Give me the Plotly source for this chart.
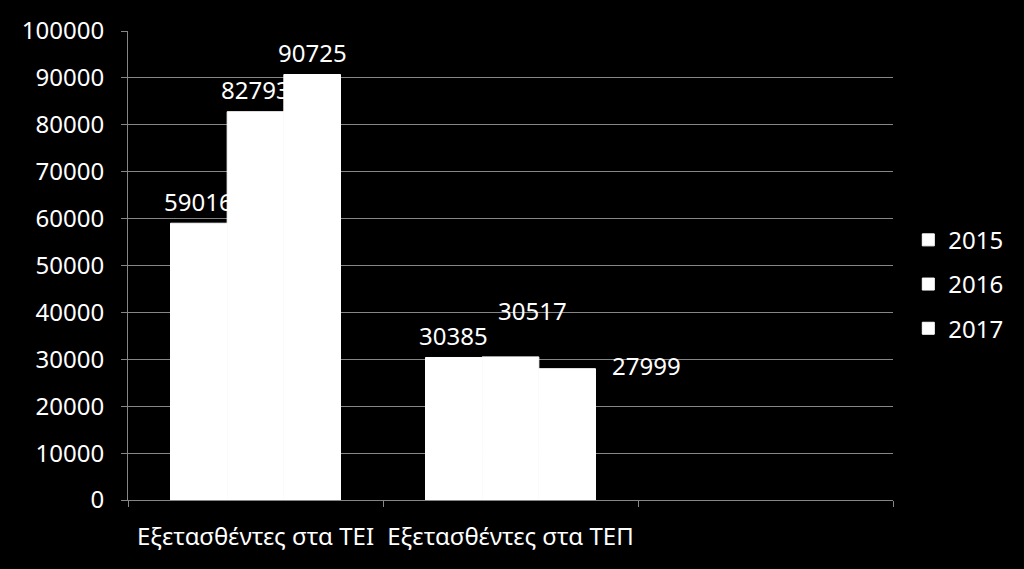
import plotly.graph_objects as go

# Κατηγορίες (η τρίτη είναι κενή στο πρωτότυπο)
categories = ["Εξετασθέντες στα ΤΕΙ", "Εξετασθέντες στα ΤΕΠ", " "]
years = ["2015", "2016", "2017"]
values_2015 = [59016, 30385, None]
values_2016 = [82793, 30517, None]
values_2017 = [90725, 27999, None]
y_ticks = list(range(0, 100001, 10000))

series = [values_2015, values_2016, values_2017]
font_name = "Noto Sans, DejaVu Sans, sans-serif"
grid_col = "#868686"
fsize = 24

fig = go.Figure()
for i, (year, vals) in enumerate(zip(years, series)):
    fig.add_trace(go.Bar(
        x=categories,
        y=vals,
        name=year,
        legendgroup=year,
        marker=dict(color="white", line=dict(width=1, color="white")),
    ))

# ετικέτες τιμών (μετατοπίσεις σε px όπως στο Excel)
label_shift = {(1, 1): (22, 24), (1, 2): (79, -19)}
bar_w = (1 - 1 / 3) / 3
for si, vals in enumerate(series):
    for ci, v in enumerate(vals):
        if v is None:
            continue
        dx, dy = label_shift.get((ci, si), (0, 0))
        fig.add_annotation(
            x=ci + (si - 1) * bar_w, y=v, xref="x", yref="y",
            text=str(v), showarrow=False,
            xshift=dx, yshift=22 + dy, yanchor="middle",
            font=dict(family=font_name, size=fsize, color="white"),
        )

fig.update_layout(
    width=1024, height=569,
    paper_bgcolor="black", plot_bgcolor="black",
    margin=dict(l=128, r=131, t=31, b=69),
    barmode="group", bargap=1 / 3, bargroupgap=0,
    font=dict(family=font_name, size=fsize, color="white"),
    legend=dict(
        x=1.02, xanchor="left", y=0.46, yanchor="middle",
        font=dict(size=fsize, color="white"),
        tracegroupgap=10, itemwidth=30,
    ),
    showlegend=True,
)
fig.update_xaxes(
    type="category", categoryorder="array", categoryarray=categories,
    range=[-0.5, 2.5], tickangle=0, automargin=False,
    tickson="boundaries", ticks="outside", ticklen=6, tickcolor=grid_col,
    showline=True, linecolor=grid_col, linewidth=1,
    showgrid=False, ticklabelstandoff=15,
    tickfont=dict(size=fsize, color="white"),
)
fig.update_yaxes(
    range=[0, 100000], tickvals=y_ticks, ticktext=[str(t) for t in y_ticks],
    ticks="outside", ticklen=6, tickcolor=grid_col, automargin=False,
    showline=True, linecolor=grid_col, linewidth=1,
    showgrid=True, gridcolor=grid_col, gridwidth=1,
    zeroline=False, ticklabelstandoff=12,
    tickfont=dict(size=fsize, color="white"),
)

fig.write_html("out.html", config={"displayModeBar": False},
               post_script="document.body.style.margin='0';")
